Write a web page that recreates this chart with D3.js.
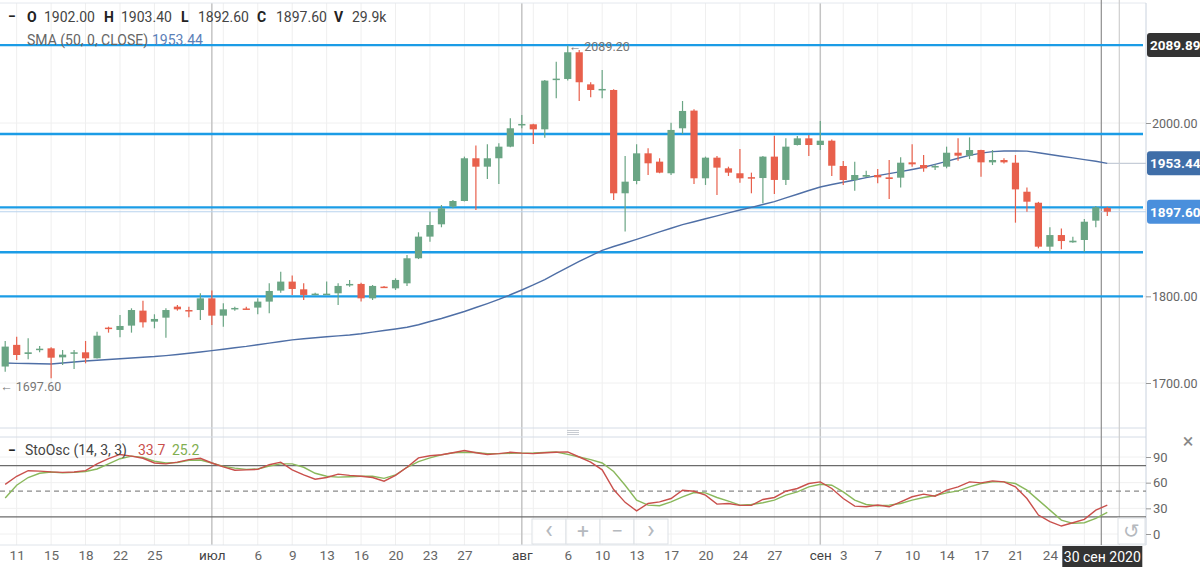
<!DOCTYPE html>
<html>
<head>
<meta charset="utf-8">
<script src="https://cdn.jsdelivr.net/npm/d3@7"></script>
<style>
body { margin: 0; background: #fff; }
svg { display: block; font-family: Roboto, "Noto Sans", sans-serif; }
</style>
</head>
<body>
<svg id="chart" width="1200" height="567"></svg>
<script>
// trading days (Sun-Fri sessions), 10 Jun - 30 Sep 2020
const dates = [
  "2020-06-10","2020-06-11","2020-06-12","2020-06-14","2020-06-15","2020-06-16","2020-06-17","2020-06-18","2020-06-19",
  "2020-06-21","2020-06-22","2020-06-23","2020-06-24","2020-06-25","2020-06-26","2020-06-28","2020-06-29","2020-06-30",
  "2020-07-01","2020-07-02","2020-07-03","2020-07-05","2020-07-06","2020-07-07","2020-07-08","2020-07-09","2020-07-10",
  "2020-07-12","2020-07-13","2020-07-14","2020-07-15","2020-07-16","2020-07-17","2020-07-19","2020-07-20","2020-07-21",
  "2020-07-22","2020-07-23","2020-07-24","2020-07-26","2020-07-27","2020-07-28","2020-07-29","2020-07-30","2020-07-31",
  "2020-08-02","2020-08-03","2020-08-04","2020-08-05","2020-08-06","2020-08-07","2020-08-09","2020-08-10","2020-08-11",
  "2020-08-12","2020-08-13","2020-08-14","2020-08-16","2020-08-17","2020-08-18","2020-08-19","2020-08-20","2020-08-21",
  "2020-08-23","2020-08-24","2020-08-25","2020-08-26","2020-08-27","2020-08-28","2020-08-30","2020-08-31",
  "2020-09-01","2020-09-02","2020-09-03","2020-09-04","2020-09-06","2020-09-07","2020-09-08","2020-09-09","2020-09-10",
  "2020-09-11","2020-09-13","2020-09-14","2020-09-15","2020-09-16","2020-09-17","2020-09-18","2020-09-20","2020-09-21",
  "2020-09-22","2020-09-23","2020-09-24","2020-09-25","2020-09-27","2020-09-28","2020-09-29","2020-09-30"
]

const open = [
  1719,1744,1733.5,1739.2,1740,1729.6,1734.2,1735.4,1728.5,1763.9,1761.2,1766.2,1783.5,1770.8,1775.4,1788.1,1784.2,1784.2,
  1797.7,1777.7,1785.6,1786,1787,1793.9,1806.6,1817,1808.1,1802.3,1802.4,1803.5,1813.3,1814.3,1797.7,1811.2,1809.2,1815,
  1843.9,1868.9,1883.1,1903.5,1910,1959.3,1949.6,1959.3,1972.7,1998.1,1998.5,1992.7,2050.4,2050.8,2081.6,2044.6,2038.5,
  2038.1,1918.9,1933.1,1965,1955.4,1942,1993.9,2014.3,1936.2,1960,1947.7,1942,1937.5,1936.5,1961.2,1934.3,1974.6,1982.3,
  1974.6,1979.6,1950.4,1934.2,1938,1940,1937.3,1936.9,1954.6,1951.5,1948.8,1949.6,1965.7,1962.3,1968.8,1954.6,1957.3,
  1954.2,1920.7,1908,1857.3,1870.7,1862.3,1865,1887.3,1902
]
const high = [
  1748.5,1753.5,1751.6,1742.7,1741.2,1738.1,1738.1,1748.5,1759.2,1765,1778.5,1786.2,1795,1779.3,1786.2,1790,1788.1,1803.5,
  1806.6,1792,1788.1,1788.1,1797.7,1815,1828.5,1823.9,1815,1804.2,1817,1815,1818.9,1815.8,1813.1,1812,1820.8,1847.7,
  1873.9,1897.7,1905.4,1911.2,1961.2,1973.9,1975.4,1976.6,2005.4,2009.3,1999.2,2049.5,2070.8,2089.2,2084.3,2047,2061.2,
  2039,1962,1975.4,1970.8,1959.3,2000.4,2025.4,2015.8,1961.2,1962,1949.6,1970,1942.7,1962,1985.4,1982.3,1985,1986.1,
  2002.3,1981.1,1956.1,1955.3,1945,1946.9,1957.3,1960.4,1975.4,1963,1952.3,1972.7,1982.3,1983.4,1969.2,1968.8,1959.2,
  1963,1925.7,1909,1879.6,1878.4,1868.8,1889.2,1904.2,1903.4
]
const low = [
  1713,1726.6,1727.3,1735.4,1705.4,1720.8,1716.2,1722.7,1728.2,1758.1,1752.7,1758.1,1763.9,1763.1,1752.3,1783.5,1775.8,1772.7,
  1767,1765,1783.5,1784.2,1779.3,1780.4,1804.2,1801.6,1795.8,1801.2,1801.6,1790,1811.2,1793.9,1795.8,1809.6,1807.3,1812,
  1843,1863.1,1879.7,1901.6,1909.5,1899.7,1935.4,1929.6,1972,1993.9,1975.8,1983.1,2028.5,2048.9,2025.4,2029.6,2028.5,
  1911.2,1874.7,1929.3,1940,1942,1940,1987.3,1929.6,1928.5,1917,1938.9,1931.2,1918.9,1907.3,1918,1928.4,1974,1961.9,
  1968.8,1938.8,1928.4,1921.9,1937.3,1930.4,1912.3,1925.7,1949.6,1943.8,1945.7,1947.7,1956.5,1958.4,1938,1951.5,1953.4,
  1885,1897.7,1855.4,1851.5,1854.2,1861.9,1851.5,1879.6,1892.6
]
const close = [
  1742,1732.3,1735.4,1739.6,1729.2,1732.7,1735.4,1728.5,1754.6,1762.3,1765.8,1784.2,1770,1773.9,1784.2,1785,1783.3,1797.7,
  1777.7,1785,1786.6,1785.2,1793.9,1806.2,1817,1808.5,1801.6,1803.1,1803.1,1812,1814.3,1797.7,1812,1810.4,1818.9,1843.9,
  1868.9,1882.3,1901.6,1910,1959.3,1949.6,1959.3,1972.7,1993.9,1998.9,1992.7,2048.9,2051.2,2081.6,2047,2038.1,2039.3,
  1918.9,1932.3,1965,1953.5,1942.7,1992,2013.9,1936.2,1960,1948.5,1942.7,1936.2,1936.5,1961.2,1934.3,1972.7,1982.3,1974.6,
  1979.6,1950.7,1934.2,1940,1940,1937.3,1935.4,1954.2,1952.3,1947.7,1950.4,1965.7,1962.3,1968.8,1954.6,1957.3,1954.6,
  1923.4,1909.2,1857.3,1870.7,1863.8,1864.2,1886.1,1902.7,1897.6
]

// SMA (50, 0, CLOSE)
const sma50 = [
  1723,1722.7,1722.5,1722.2,1722,1723,1724.2,1725.4,1726.3,1727.1,1727.9,1728.9,1729.7,1730.5,1731.6,1732.9,1734.3,1735.8,
  1737.4,1739,1740.6,1742.2,1744.1,1746,1747.9,1749.8,1751.1,1752.2,1753.3,1754.4,1755.4,1756.9,1758.7,1760.5,1762.3,1764.3,
  1767.2,1771,1774.4,1778.5,1782.5,1787.1,1791.6,1796.4,1801.8,1807.3,1813.1,1819.3,1826.4,1833.3,1840.2,1846.8,1853,
  1857.5,1861.5,1865.8,1870.1,1874.4,1878.6,1882.7,1886.1,1889.5,1892.8,1896.3,1899.6,1902.7,1905.9,1909.3,1913.6,1917.8,
  1922.1,1926.2,1929,1931.7,1934.3,1936.9,1939.3,1941.6,1943.9,1946.3,1949,1952.3,1955.8,1959.3,1962.6,1965.2,1967,1967.7,
  1967.7,1967.5,1965.7,1963.7,1961.7,1959.8,1957.8,1955.8,1953.44
]

// StoOsc (14, 3, 3)
const stochK = [
  58,67.5,74,73.5,72.6,72,72.5,74,82,88,93,91,88.5,83,82,84,87,88.5,83,78.5,74.5,75,75.5,81,84,75,69,64,66,70,68.5,67.5,
  66,61.7,68.5,78,89,91.5,92.7,95,97.5,95,93,94,95.5,94.5,94,95,95.5,96,90,84,75,52,37,27,35.7,37.6,41.5,51.2,50,45.4,
  34.9,35.7,33.4,33.4,40.4,42.7,50,53.2,59,60.9,53.2,41.5,32.6,31.8,33.8,31.8,37.6,43.5,46.6,44.2,51.2,55.1,60.9,59.8,
  62.1,60.9,55.1,41.5,22.1,14.4,9.3,13.2,17.1,27.9,33.7
]
const stochD = [
  42,57,66,71,72.5,71.5,72,73,76,82,88,91,89.5,85,83,83.5,86,86.5,83,79,77,75.5,76,79.5,82,82,78,71,67.5,66.5,67,67.5,
  67.5,65,69,78,84.5,89,92.5,95,95.5,95.2,94,93.9,94.2,94.5,94.7,95.2,95.8,93,90,87,83,73,57,39.6,33.8,33,37.6,43.5,
  48.5,48.1,42.7,38.4,33.8,34.5,36.5,39.6,45.4,49.3,55.1,58.2,57,49.3,39.6,34.5,33,33.8,35.7,39.6,42.7,45,48.1,50.4,
  55.1,59,60.9,60.9,59,51.2,39.6,27.9,16.3,12.4,13.2,18.2,25.2
]

const levels = [2089.89, 1987.3, 1902.7, 1850.8, 1800]
const priceTicks = [1700, 1800, 2000]
const priceGrid = [1700, 1800, 1900, 2000]
const stochTicks = [0, 30, 60, 90]
const stochBands = [80, 20]
const monthStarts = ["2020-07-01", "2020-08-02", "2020-09-01"]
const monthNames = ["июл", "авг", "сен"]
const tickDates = [
  "2020-06-11","2020-06-15","2020-06-18","2020-06-22","2020-06-25","2020-07-01","2020-07-06","2020-07-09",
  "2020-07-13","2020-07-16","2020-07-20","2020-07-23","2020-07-27","2020-08-02","2020-08-06","2020-08-10",
  "2020-08-13","2020-08-17","2020-08-20","2020-08-24","2020-08-27","2020-09-01","2020-09-03","2020-09-07",
  "2020-09-10","2020-09-14","2020-09-17","2020-09-21","2020-09-24"
]
const volumeText = "29.9k"
const lastDateLabel = "30 сен 2020"

const plotRight = 1146
const main = {top: 3, bottom: 428}
const osc = {top: 437, bottom: 545}
const green = '#6aa584', red = '#e8604c'
const levelBlue = '#1b9ce6'

const svg = d3.select('#chart')

const x = d3.scalePoint().domain(dates).range([5.2, 1107.3])
const y = d3.scaleLinear().domain([1700, 2000]).range([383, 123])
const ys = d3.scaleLinear().domain([0, 90]).range([534, 457])
const last = dates.length - 1

const defs = svg.append('defs')
defs.append('clipPath').attr('id', 'clipMain').append('rect')
    .attr('x', 0).attr('y', main.top).attr('width', plotRight).attr('height', main.bottom - main.top)
defs.append('clipPath').attr('id', 'clipOsc').append('rect')
    .attr('x', 0).attr('y', osc.top).attr('width', plotRight).attr('height', osc.bottom - osc.top)

// vertical grid
const grid = svg.append('g')
grid.selectAll('.vg').data(dates.filter((d, i) => i % 3 === 1))
    .join('line')
    .attr('x1', d => x(d)).attr('x2', d => x(d))
    .attr('y1', main.top).attr('y2', osc.bottom)
    .attr('stroke', '#efefef').attr('stroke-width', 1)
grid.selectAll('.hg').data(priceGrid).join('line')
    .attr('x1', 0).attr('x2', plotRight)
    .attr('y1', d => y(d)).attr('y2', d => y(d))
    .attr('stroke', '#f0f0f0')
grid.selectAll('.sg').data(stochTicks).join('line')
    .attr('x1', 0).attr('x2', plotRight)
    .attr('y1', d => ys(d)).attr('y2', d => ys(d))
    .attr('stroke', '#f0f0f0')
grid.selectAll('.mg').data(monthStarts).join('line')
    .attr('x1', d => x(d)).attr('x2', d => x(d))
    .attr('y1', main.top).attr('y2', osc.bottom)
    .attr('stroke', '#c4c4c4').attr('stroke-width', 1.5)

// pane frames
svg.append('line').attr('x1', 0).attr('x2', plotRight).attr('y1', main.top).attr('y2', main.top)
    .attr('stroke', '#e4e8ee')
svg.append('line').attr('x1', 0).attr('x2', plotRight).attr('y1', main.bottom).attr('y2', main.bottom)
    .attr('stroke', '#d5dce6')
svg.append('line').attr('x1', 0).attr('x2', plotRight).attr('y1', osc.top).attr('y2', osc.top)
    .attr('stroke', '#d5dce6')
svg.append('line').attr('x1', 0).attr('x2', plotRight).attr('y1', osc.bottom).attr('y2', osc.bottom)
    .attr('stroke', '#dfe4ea')
svg.append('line').attr('x1', plotRight).attr('x2', plotRight).attr('y1', main.top).attr('y2', osc.bottom)
    .attr('stroke', '#c9d2de')

// pane splitter handle
svg.append('g').selectAll('line').data([-2, 0, 2]).join('line')
    .attr('x1', 567).attr('x2', 579).attr('y1', d => 432.5 + d).attr('y2', d => 432.5 + d)
    .attr('stroke', '#c8ccd2').attr('stroke-width', 1)

// crosshair and right margin line
svg.append('line').attr('x1', x(dates[last]) - 6).attr('x2', x(dates[last]) - 6)
    .attr('y1', 0).attr('y2', osc.bottom).attr('stroke', '#8e8e8e').attr('stroke-width', 1.2)
svg.append('line').attr('x1', x(dates[last]) + 12).attr('x2', x(dates[last]) + 12)
    .attr('y1', 0).attr('y2', osc.bottom).attr('stroke', '#cfcfcf').attr('stroke-width', 1.2)

// ---- main pane ----
const mainG = svg.append('g').attr('clip-path', 'url(#clipMain)')

// legend under the lines
const leg = svg.append('g').style('font-size', '14px')
leg.append('text').attr('x', 8).attr('y', 21).attr('font-weight', 'bold').attr('fill', '#222').text('−')
const ohlcParts = [
  ['O', open[last].toFixed(2), 27, 44], ['H', high[last].toFixed(2), 104, 121],
  ['L', low[last].toFixed(2), 181, 198], ['C', close[last].toFixed(2), 257, 276], ['V', volumeText, 334, 352]
]
ohlcParts.forEach(p => {
  leg.append('text').attr('x', p[2]).attr('y', 22).attr('font-weight', 'bold').attr('fill', '#222').text(p[0])
  leg.append('text').attr('x', p[3]).attr('y', 22).attr('fill', '#444').text(p[1])
})
leg.append('text').attr('x', 27).attr('y', 45).attr('fill', '#666').text('SMA (50, 0, CLOSE)')
leg.append('text').attr('x', 152).attr('y', 45).attr('fill', '#5b80b8').text(sma50[last].toFixed(2))

// last price / SMA price lines
mainG.append('line').attr('x1', 0).attr('x2', plotRight)
    .attr('y1', y(close[last])).attr('y2', y(close[last]))
    .attr('stroke', '#b9d3ee').attr('stroke-width', 1.2)
mainG.append('line').attr('x1', x(dates[last])).attr('x2', plotRight)
    .attr('y1', y(sma50[last])).attr('y2', y(sma50[last]))
    .attr('stroke', '#c6cdd8').attr('stroke-width', 1.2)

// horizontal levels
mainG.selectAll('.lvl').data(levels).join('line')
    .attr('x1', 0).attr('x2', plotRight - 3)
    .attr('y1', d => y(d)).attr('y2', d => y(d))
    .attr('stroke', levelBlue).attr('stroke-width', 2.4)

// SMA
mainG.append('path')
    .datum(dates)
    .attr('fill', 'none')
    .attr('stroke', '#4f6fa6')
    .attr('stroke-width', 1.4)
    .attr('d', d3.line().x(d => x(d)).y((d, i) => y(sma50[i])))

// candles
const candles = mainG.selectAll('.candle').data(dates).join('g')
candles.append('line')
    .attr('x1', d => x(d)).attr('x2', d => x(d))
    .attr('y1', (d, i) => y(high[i])).attr('y2', (d, i) => y(low[i]))
    .attr('stroke', (d, i) => close[i] >= open[i] ? green : red).attr('stroke-width', 1.2)
candles.append('rect')
    .attr('x', d => x(d) - 3.6).attr('width', 7.2)
    .attr('y', (d, i) => y(Math.max(open[i], close[i])))
    .attr('height', (d, i) => Math.max(1.5, Math.abs(y(open[i]) - y(close[i]))))
    .attr('fill', (d, i) => close[i] >= open[i] ? green : red)

// high / low markers
const hiIdx = d3.maxIndex(high)
svg.append('text').attr('x', x(dates[hiIdx]) + 1).attr('y', y(high[hiIdx]) + 5)
    .attr('font-size', '12.5px').attr('fill', '#777').text('← ' + high[hiIdx].toFixed(2))
svg.append('text').attr('x', x(dates[0]) - 5).attr('y', y(1697.6) + 6)
    .attr('font-size', '12.5px').attr('fill', '#777').text('← ' + (1697.6).toFixed(2))

// price axis
const yAxis = svg.append('g').attr('transform', `translate(${plotRight},0)`)
    .call(d3.axisRight(y).tickValues(priceTicks).tickFormat(d3.format('.2f')).tickSize(5).tickPadding(1))
yAxis.select('.domain').remove()
yAxis.selectAll('line').attr('stroke', '#999')
yAxis.selectAll('text').attr('fill', '#666').style('font-size', '12.5px').style('font-family', 'Roboto, sans-serif')

// price badges
const badges = [
  {v: levels[0], fill: '#333333'},
  {v: sma50[last], fill: '#3f6ea8'},
  {v: close[last], fill: '#4a8fdc'}
]
const badgeG = svg.selectAll('.badge').data(badges).join('g')
badgeG.append('rect')
    .attr('x', plotRight + 1).attr('y', d => y(d.v) - 12).attr('width', 56).attr('height', 24)
    .attr('rx', 3).attr('fill', d => d.fill)
badgeG.append('text')
    .attr('x', plotRight + 4).attr('y', d => y(d.v) + 5)
    .attr('fill', '#fff').attr('font-weight', 'bold').style('font-size', '13.5px')
    .text(d => d.v.toFixed(2))

// ---- oscillator pane ----
const oscG = svg.append('g').attr('clip-path', 'url(#clipOsc)')
oscG.selectAll('.band').data(stochBands).join('line')
    .attr('x1', 0).attr('x2', plotRight)
    .attr('y1', d => ys(d)).attr('y2', d => ys(d))
    .attr('stroke', '#6b6b6b').attr('stroke-width', 1.3)
oscG.append('line').attr('x1', 0).attr('x2', plotRight)
    .attr('y1', ys(50)).attr('y2', ys(50))
    .attr('stroke', '#8a8a8a').attr('stroke-width', 1.3).attr('stroke-dasharray', '5,4')

oscG.append('path').datum(dates)
    .attr('fill', 'none').attr('stroke', '#8ab85c').attr('stroke-width', 1.4)
    .attr('d', d3.line().x(d => x(d)).y((d, i) => ys(stochD[i])))
oscG.append('path').datum(dates)
    .attr('fill', 'none').attr('stroke', '#c9504c').attr('stroke-width', 1.4)
    .attr('d', d3.line().x(d => x(d)).y((d, i) => ys(stochK[i])))

const oscLeg = svg.append('g').style('font-size', '14px')
oscLeg.append('text').attr('x', 8).attr('y', 455).attr('font-weight', 'bold').attr('fill', '#222').text('−')
oscLeg.append('text').attr('x', 25).attr('y', 455).attr('fill', '#444').text('StoOsc (14, 3, 3)')
oscLeg.append('text').attr('x', 138).attr('y', 455).attr('fill', '#c9504c').text(stochK[last].toFixed(1))
oscLeg.append('text').attr('x', 172).attr('y', 455).attr('fill', '#7fae4f').text(stochD[last].toFixed(1))

const sAxis = svg.append('g').attr('transform', `translate(${plotRight},0)`)
    .call(d3.axisRight(ys).tickValues(stochTicks).tickSize(5).tickPadding(2))
sAxis.select('.domain').remove()
sAxis.selectAll('line').attr('stroke', '#999')
sAxis.selectAll('text').attr('fill', '#666').style('font-size', '13px').style('font-family', 'Roboto, sans-serif')

// close icon
svg.append('text').attr('x', 1188).attr('y', 448).attr('text-anchor', 'middle')
    .attr('fill', '#888').style('font-size', '20px').text('×')

// navigation buttons
const nav = svg.append('g')
const navSyms = ['‹', '+', '−', '›']
nav.selectAll('rect').data(navSyms).join('rect')
    .attr('x', (d, i) => 532 + i * 34).attr('y', 519).attr('width', 34).attr('height', 25)
    .attr('fill', '#fff').attr('fill-opacity', 0.85).attr('stroke', '#dde1e6')
nav.selectAll('text').data(navSyms).join('text')
    .attr('x', (d, i) => 549 + i * 34).attr('y', 538).attr('text-anchor', 'middle')
    .attr('fill', '#b5b9be').style('font-size', d => (d === '‹' || d === '›') ? '26px' : '21px')
    .text(d => d)
nav.append('rect').attr('x', 1118).attr('y', 518).attr('width', 27).attr('height', 26)
    .attr('fill', '#fff').attr('stroke', '#dde1e6')
nav.append('text').attr('x', 1131.5).attr('y', 538).attr('text-anchor', 'middle')
    .attr('fill', '#b5b9be').style('font-size', '20px').text('↺')

// date axis
const xAxis = svg.append('g').attr('transform', `translate(0,${osc.bottom})`)
    .call(d3.axisBottom(x).tickValues(tickDates).tickSize(0).tickPadding(5)
      .tickFormat(d => {
        const m = monthStarts.indexOf(d)
        return m >= 0 ? monthNames[m] : String(+d.slice(8))
      }))
xAxis.select('.domain').remove()
xAxis.selectAll('text').attr('fill', '#666').style('font-size', '13.5px').style('font-family', 'Roboto, sans-serif')
xAxis.selectAll('text').filter(d => monthStarts.includes(d)).attr('fill', '#444')

// crosshair date badge
svg.append('rect').attr('x', x(dates[last]) - 45).attr('y', 546).attr('width', 80).attr('height', 21)
    .attr('fill', '#333')
svg.append('text').attr('x', x(dates[last]) - 5).attr('y', 562).attr('text-anchor', 'middle')
    .attr('fill', '#fff').style('font-size', '14px').text(lastDateLabel)
</script>
</body>
</html>
